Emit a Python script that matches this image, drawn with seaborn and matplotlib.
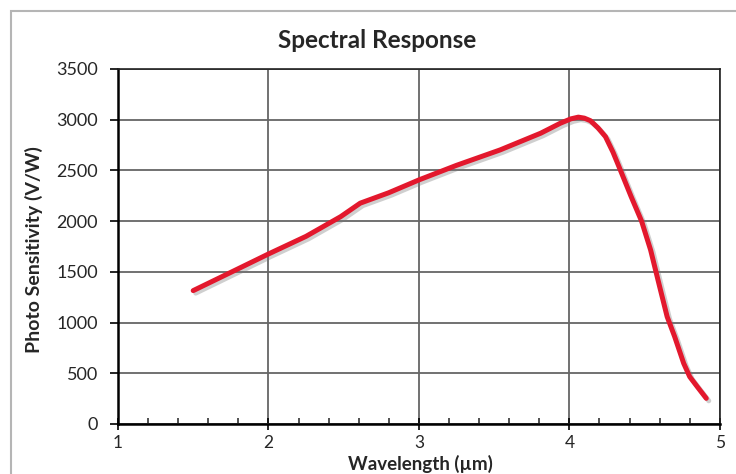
import numpy as np
import pandas as pd
import seaborn as sns
import matplotlib.pyplot as plt
import matplotlib.patheffects as pe
from matplotlib.patches import Rectangle
from matplotlib.ticker import MultipleLocator

# valeurs
wavelength = [1.5, 1.75, 2.0, 2.25, 2.48, 2.61, 2.8, 3.0, 3.25, 3.54, 3.81, 3.94, 4.01, 4.06,
              4.10, 4.14, 4.19, 4.24, 4.29, 4.34, 4.41, 4.48, 4.54, 4.60, 4.65,
              4.70, 4.76, 4.80, 4.85, 4.91]
sensitivity = [1315, 1495, 1676, 1850, 2044, 2177, 2280, 2406, 2550, 2702, 2867, 2965, 3008, 3025,
               3015, 2990, 2920, 2833, 2680, 2500, 2244, 2000, 1716, 1355, 1058,
               861, 598, 466, 368, 253]
x_ticks = [1, 2, 3, 4, 5]
y_ticks = [0, 500, 1000, 1500, 2000, 2500, 3000, 3500]

df = pd.DataFrame({'wl': wavelength, 'sens': sensitivity})

sns.set_style("white")
plt.rcParams['font.family'] = ['Lato', 'DejaVu Sans']

fig = plt.figure(figsize=(7.36, 4.74), dpi=100)
ax = fig.add_axes([0.1603, 0.1055, 0.8177, 0.749])

sns.lineplot(data=df, x='wl', y='sens', ax=ax, color='#e3182d', linewidth=3.6,
             solid_joinstyle='round', solid_capstyle='round',
             path_effects=[pe.SimpleLineShadow(offset=(1.8, -1.8), shadow_color='#777777', alpha=0.35),
                           pe.Normal()])

ax.set_xlim(1, 5)
ax.set_ylim(0, 3500)
ax.set_xticks(x_ticks)
ax.set_yticks(y_ticks)
ax.xaxis.set_minor_locator(MultipleLocator(0.2))
ax.grid(True, which='major', color='#666666', linewidth=1.3)
ax.set_axisbelow(True)

for s in ['top', 'right']:
    ax.spines[s].set_color('#222222')
    ax.spines[s].set_linewidth(1.2)
for s in ['left', 'bottom']:
    ax.spines[s].set_color('black')
    ax.spines[s].set_linewidth(1.8)

ax.tick_params(axis='y', which='major', direction='out', length=5.8, width=1.2, color='black',
               labelsize=13, pad=8.5, left=True)
ax.tick_params(axis='x', which='major', direction='inout', length=8, width=1.2, color='black',
               labelsize=12.5, pad=4, bottom=True)
ax.tick_params(axis='x', which='minor', direction='in', length=4, width=1.2, color='#333333', bottom=True)

ax.set_xlabel('')
ax.set_ylabel('')
fig.text(377 / 736, 1 - 40 / 474, 'Spectral Response', ha='center', va='center',
         fontsize=17.5, fontweight='bold')
fig.text(420 / 736, 1 - 464 / 474, 'Wavelength (µm)', ha='center', va='center',
         fontsize=13.5, fontweight='bold')
fig.text(34 / 736, 1 - 250 / 474, 'Photo Sensitivity (V/W)', ha='center', va='center',
         rotation=90, fontsize=14, fontweight='bold')

# cadre gris du graphique
fig.patches.append(Rectangle((11 / 736, -0.05), 1.1, 1 - 11 / 474 + 0.05, transform=fig.transFigure,
                             fill=False, edgecolor='#b5b5b5', linewidth=1.5))

fig.savefig('out.png', dpi=100)
